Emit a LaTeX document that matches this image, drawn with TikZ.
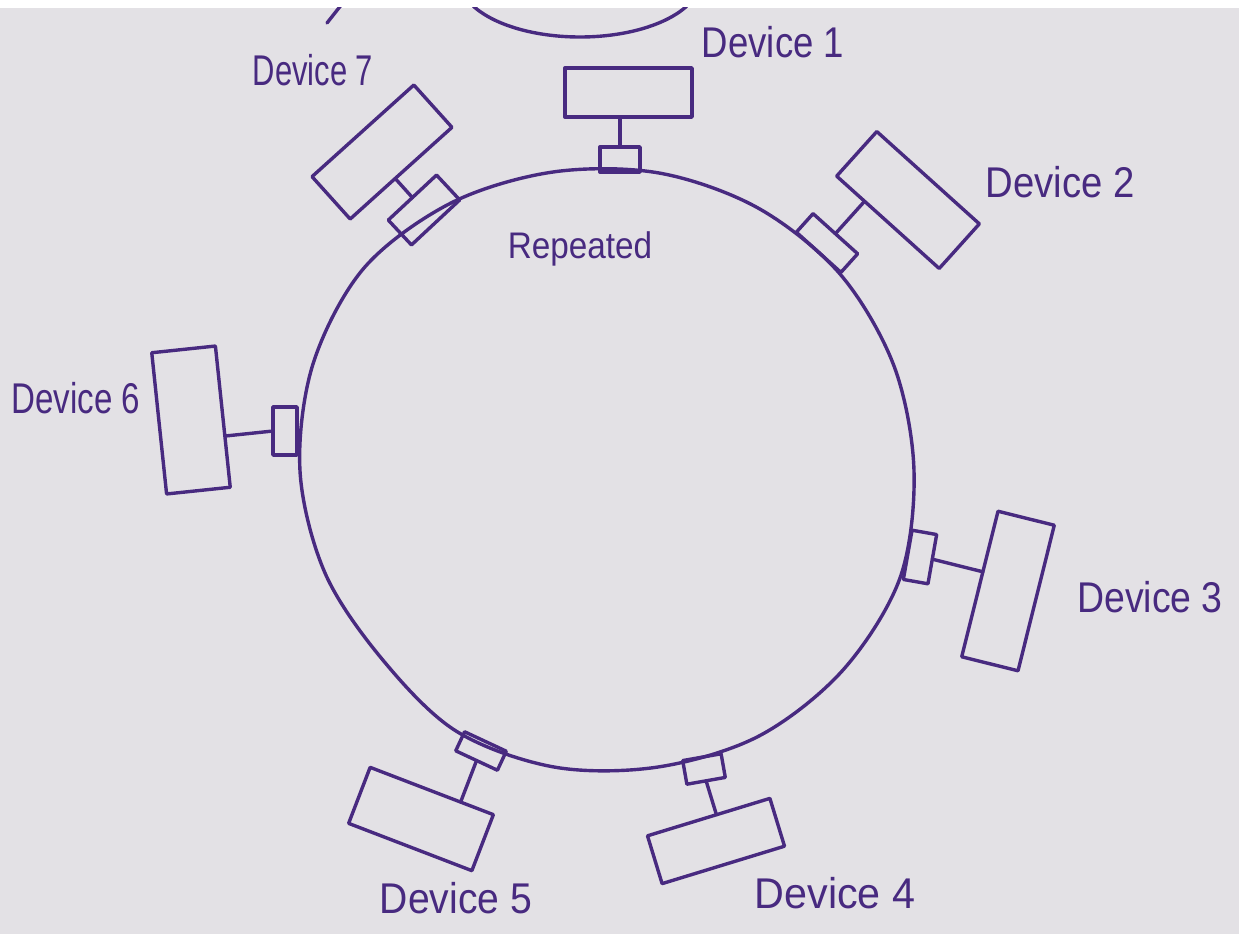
\documentclass[tikz,border=0pt]{standalone}
\usepackage{fontspec}
\setmainfont{Liberation Sans}
\usetikzlibrary{calc}
\definecolor{ink}{RGB}{72,42,128}
\definecolor{paper}{RGB}{227,225,229}
\begin{document}
\begin{tikzpicture}[x=1pt,y=-1pt,
  wire/.style={draw=ink, line width=3.4pt, line join=round, line cap=round},
  devbox/.style={draw=ink, line width=3.4pt, inner sep=0pt, outer sep=0pt, line join=round},
  rep/.style={draw=ink, line width=3.4pt, inner sep=0pt, outer sep=0pt, line join=round},
  lbl/.style={text=ink, font=\fontsize{43}{43}\selectfont, inner sep=0pt}]
\useasboundingbox (0,0) rectangle (1239,934);
\fill[paper] (0,8) rectangle (1239,934);
\fill[white] (0,0) rectangle (1239,8);
% partial shape at the top edge
\begin{scope}
\clip (0,8) rectangle (1239,934);
\draw[wire] (580,-20) ellipse [x radius=120pt, y radius=57pt];
\draw[wire] (327,23) -- (342,4);
\end{scope}
% ring
\draw[wire] plot[smooth cycle, tension=0.55] coordinates {
 (914,471) (900,578) (843,670) (759,736) (658,767) (554,767) (456,731)
 (382,659) (325,573) (300,471) (313,364) (364,268) (451,203) (553,172)
 (659,173) (758,208) (840,274) (894,366)};
% devices
\node[devbox, minimum width=127pt, minimum height=49pt] (D1) at (628.5,92.5) {};
\node[devbox, minimum width=137pt, minimum height=57pt, rotate=42] (D7) at (382,152) {};
\node[devbox, minimum width=138pt, minimum height=60pt, rotate=-42] (D2) at (908,200) {};
\node[devbox, minimum width=64pt, minimum height=142pt, rotate=6] (D6) at (191,420) {};
\node[devbox, minimum width=58pt, minimum height=150pt, rotate=-14] (D3) at (1008,591) {};
\node[devbox, minimum width=128pt, minimum height=50pt, rotate=17] (D4) at (716,841) {};
\node[devbox, minimum width=132pt, minimum height=60pt, rotate=-21] (D5) at (421,819) {};
% repeaters
\node[rep, minimum width=40pt, minimum height=25pt] (R1) at (620,159.5) {};
\node[rep, minimum width=66pt, minimum height=34pt, rotate=43] (R7) at (424,210) {};
\node[rep, minimum width=60pt, minimum height=25pt, rotate=-42] (R2) at (827,243) {};
\node[rep, minimum width=24pt, minimum height=48pt] (R6) at (285,431) {};
\node[rep, minimum width=25pt, minimum height=50pt, rotate=-10] (R3) at (920,557) {};
\node[rep, minimum width=39pt, minimum height=24pt, rotate=10] (R4) at (704,769) {};
\node[rep, minimum width=46pt, minimum height=21pt, rotate=-25] (R5) at (481,751) {};
% stems
\draw[wire] (R1.north) -- ($(D1.south west)!(R1.north)!(D1.south east)$);
\draw[wire] (R7.north) -- ($(D7.south west)!(R7.north)!(D7.south east)$);
\draw[wire] (R2.north) -- ($(D2.south west)!(R2.north)!(D2.south east)$);
\draw[wire] (R6.west) -- ($(D6.north east)!(R6.west)!(D6.south east)$);
\draw[wire] (R3.east) -- ($(D3.north west)!(R3.east)!(D3.south west)$);
\draw[wire] (R4.south) -- ($(D4.north west)!(R4.south)!(D4.north east)$);
\draw[wire] (R5.south) -- ($(D5.north west)!(R5.south)!(D5.north east)$);
% labels
\node[lbl, xscale=0.85] (L1) at (773,42) {Device 1};
\node[lbl, xscale=0.72] (L7) at (313,70) {Device 7};
\node[lbl, xscale=0.89] (L2) at (1060,182) {Device 2};
\node[lbl, xscale=0.77] (L6) at (76,398) {Device 6};
\node[lbl, xscale=0.87] (L3) at (1150,597) {Device 3};
\node[lbl, xscale=0.96] (L4) at (835,893) {Device 4};
\node[lbl, xscale=0.91] (L5) at (456,898) {Device 5};
\node[lbl, font=\fontsize{37}{37}\selectfont, xscale=0.9] (LR) at (580,249) {Repeated};
\end{tikzpicture}
\end{document}
